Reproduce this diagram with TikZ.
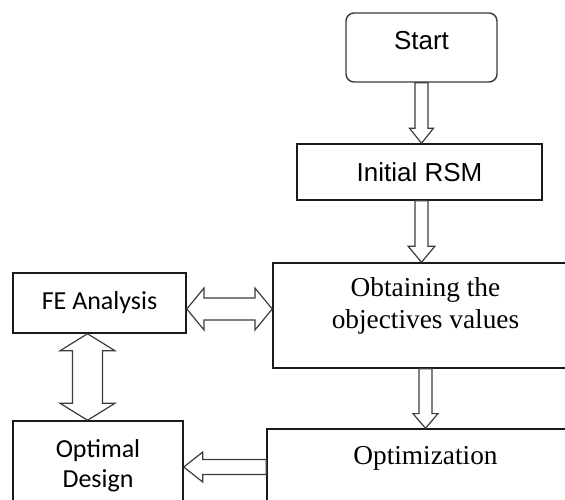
\documentclass[tikz,border=0pt]{standalone}
\usepackage{fontspec}
\newfontfamily\arialfont{Liberation Sans}
\newfontfamily\calibrifont{Carlito}
\newfontfamily\timesfont{Liberation Serif}
\usetikzlibrary{calc,positioning}
\definecolor{Edge}{HTML}{1A1A1A}
\definecolor{ArrowEdge}{HTML}{3C3C3C}
\tikzset{
  stepbox/.style={
    draw=Edge, line width=1.1pt, fill=white, inner sep=0pt
  },
  startbox/.style={stepbox, rounded corners=6pt, draw=ArrowEdge},
  sanstext/.style={font=\arialfont\fontsize{19.5}{23}\selectfont},
  calitext/.style={font=\calibrifont\fontsize{19.5}{22.5}\selectfont, align=center},
  seriftext/.style={font=\timesfont\fontsize{20.5}{24}\selectfont, align=center},
  blockarrow/.style={draw=ArrowEdge, line width=0.9pt, fill=white, line join=miter}
}
% hollow block arrow: from, to, shaft half width, head half width, head length
\newcommand{\hollowarrow}[5]{%
  \coordinate (p) at #1;
  \coordinate (q) at #2;
  \coordinate (h) at ($(q)!#5!(p)$);
  \draw[blockarrow] ($(p)!#3!90:(q)$) -- ($(h)!#3!90:(q)$) -- ($(h)!#4!90:(q)$) -- (q)
    -- ($(h)!#4!-90:(q)$) -- ($(h)!#3!-90:(q)$) -- ($(p)!#3!-90:(q)$) -- cycle;}
% same, with a head at both ends
\newcommand{\hollowdouble}[5]{%
  \coordinate (p) at #1;
  \coordinate (q) at #2;
  \coordinate (h1) at ($(p)!#5!(q)$);
  \coordinate (h2) at ($(q)!#5!(p)$);
  \draw[blockarrow] (p) -- ($(h1)!#4!90:(q)$) -- ($(h1)!#3!90:(q)$) -- ($(h2)!#3!90:(q)$)
    -- ($(h2)!#4!90:(q)$) -- (q) -- ($(h2)!#4!-90:(q)$) -- ($(h2)!#3!-90:(q)$)
    -- ($(h1)!#3!-90:(q)$) -- ($(h1)!#4!-90:(q)$) -- cycle;}

\begin{document}
\begin{tikzpicture}[x=0.75pt, y=-0.75pt]
  \useasboundingbox (0,0) rectangle (565,500);
  \clip (0,0) rectangle (565,500);

  \node[startbox, minimum width=113.25pt, minimum height=51.75pt,
    label={[sanstext, anchor=center, yshift=-21pt]north:Start}] (start) at (421.5,47.5) {};
  \node[stepbox, sanstext, minimum width=183.75pt, minimum height=42pt] (rsm) at (419.5,172) {Initial RSM};
  \node[stepbox, minimum width=228.75pt, minimum height=78.75pt,
    label={[seriftext, anchor=center, yshift=-33pt]north:Obtaining the\\objectives values}] (obt) at (425.5,315.5) {};
  \node[stepbox, minimum width=237.75pt, minimum height=68.25pt,
    label={[seriftext, anchor=center, yshift=-22.5pt]north:Optimization}] (opt) at (425.5,474.5) {};
  \node[stepbox, calitext, minimum width=129.75pt, minimum height=45pt] (fe) at (99.5,303) {FE Analysis};
  \node[stepbox, minimum width=127.5pt, minimum height=74.25pt,
    label={[calitext, anchor=center, yshift=-33.75pt]north:Optimal\\Design}] (des) at (98,470.5) {};

  \hollowarrow{(start.south)}{(start.south |- rsm.north)}{4.9pt}{9pt}{11.25pt}
  \hollowarrow{([xshift=1.5pt]rsm.south)}{([xshift=1.5pt]rsm.south |- obt.north)}{4.9pt}{10pt}{12pt}
  \hollowarrow{(obt.south)}{(obt.south |- opt.north)}{4.9pt}{9.4pt}{11pt}
  \hollowdouble{([yshift=-4.5pt]fe.east)}{([yshift=-4.5pt]fe.east -| obt.west)}{8.25pt}{15.75pt}{13pt}
  \hollowdouble{([xshift=-9pt]fe.south)}{([xshift=-9pt]fe.south |- des.north)}{11.25pt}{20.6pt}{12.75pt}
  \hollowarrow{([yshift=5.6pt]opt.west)}{([yshift=5.6pt]opt.west -| des.east)}{5.6pt}{11.25pt}{14.25pt}
\end{tikzpicture}
\end{document}
